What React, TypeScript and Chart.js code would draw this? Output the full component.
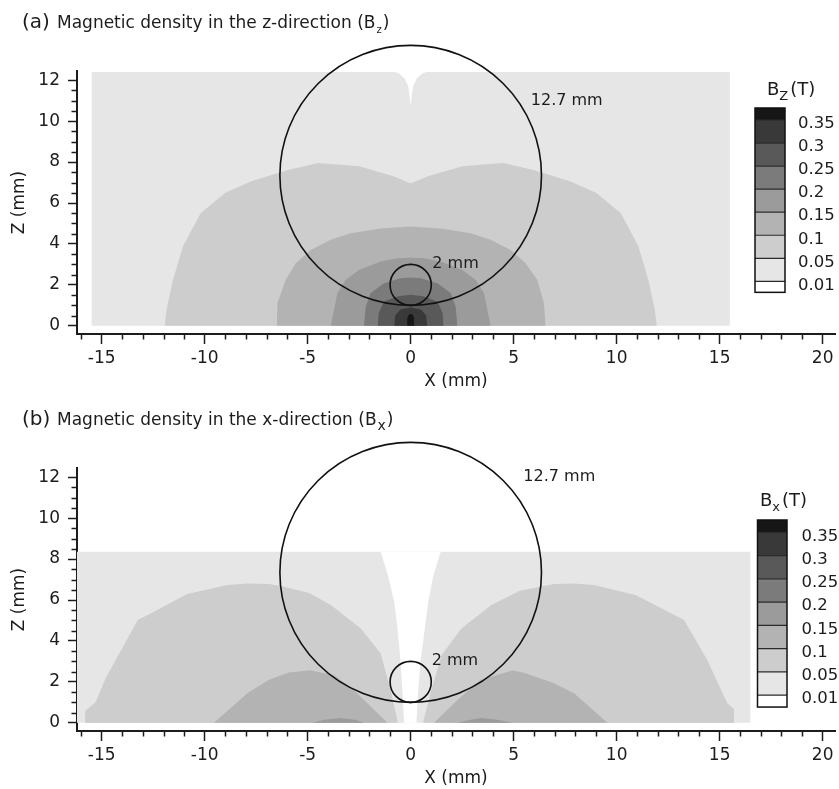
import { useEffect, useRef } from 'react';
import { Chart, registerables } from 'chart.js';

Chart.register(...registerables);

const FONT = '"DejaVu Sans", sans-serif';
const INK = '#1c1c1c';

// ---------- axes ----------
const X_MIN = -16.2;
const X_MAX = 20.6;
const Z_MIN = -0.4;
const Z_MAX = 12.45;
const X_MAJOR = [-15, -10, -5, 0, 5, 10, 15, 20];
const X_MINOR = [-16, -14, -13, -12, -11, -9, -8, -7, -6, -4, -3, -2, -1, 1, 2, 3, 4, 6, 7, 8, 9, 11, 12, 13, 14, 16, 17, 18, 19];
const Z_MAJOR = [0, 2, 4, 6, 8, 10, 12];
const Z_MINOR = [0.5, 1, 1.5, 2.5, 3, 3.5, 4.5, 5, 5.5, 6.5, 7, 7.5, 8.5, 9, 9.5, 10.5, 11, 11.5];

// ---------- colour levels (T) ----------
const LEVEL_LABELS = ['0.35', '0.3', '0.25', '0.2', '0.15', '0.1', '0.05', '0.01'];
const LEVEL_COLORS = ['#161616', '#393939', '#595959', '#7b7b7b', '#9b9b9b', '#b3b3b3', '#cdcdcd', '#e6e6e6', '#ffffff'];

// ---------- probe circles (mm) ----------
const CIRCLE_LABELS = ['12.7 mm', '2 mm'];
const CIRCLE_CX = [0, 0];
const CIRCLE_CZ = [7.35, 2];
const CIRCLE_R = [6.35, 1];
const LABEL_X_A = [5.83, 1.05];
const LABEL_Z_A = [10.98, 3.02];
const LABEL_X_B = [5.47, 1.02];
const LABEL_Z_B = [12.02, 3.02];

// ---------- panel (a) Bz contour regions ----------
const BZ_BG_X = [-15.5, -15.5, 15.5, 15.5];
const BZ_BG_Z = [0, 12.4, 12.4, 0];
const BZ_NOTCH_X = [-1.0, -0.6, -0.3, -0.12, -0.05, 0, 0.05, 0.12, 0.3, 0.6, 1.0];
const BZ_NOTCH_Z = [12.45, 12.35, 12.1, 11.7, 11.2, 10.7, 11.2, 11.7, 12.1, 12.35, 12.45];
const BZ_005_X = [-11.95, -11.85, -11.55, -11.05, -10.2, -9.0, -7.7, -6.0, -4.5, -2.5, -0.8, 0, 0.8, 2.5, 4.5, 6.0, 7.7, 9.0, 10.2, 11.05, 11.55, 11.85, 11.95];
const BZ_005_Z = [0, 0.8, 2.2, 3.9, 5.5, 6.5, 7.08, 7.6, 7.95, 7.8, 7.3, 6.95, 7.3, 7.8, 7.95, 7.6, 7.08, 6.5, 5.5, 3.9, 2.2, 0.8, 0];
const BZ_010_X = [-6.5, -6.47, -6.07, -5.58, -4.85, -3.88, -2.91, -1.46, 0, 1.46, 2.91, 3.88, 4.85, 5.58, 6.15, 6.47, 6.55];
const BZ_010_Z = [0, 1.1, 2.24, 3.06, 3.71, 4.2, 4.52, 4.76, 4.85, 4.76, 4.52, 4.2, 3.71, 3.06, 2.24, 1.1, 0];
const BZ_015_X = [-3.88, -3.56, -3.16, -2.51, -1.46, -0.65, 0, 0.65, 1.46, 2.51, 3.16, 3.56, 3.88];
const BZ_015_Z = [0, 1.59, 2.24, 2.73, 3.14, 3.3, 3.32, 3.3, 3.14, 2.73, 2.24, 1.59, 0];
const BZ_020_X = [-2.27, -2.18, -1.95, -1.3, -0.49, 0, 0.49, 1.3, 1.95, 2.18, 2.27];
const BZ_020_Z = [0, 0.94, 1.59, 2.08, 2.33, 2.36, 2.33, 2.08, 1.59, 0.94, 0];
const BZ_025_X = [-1.6, -1.55, -1.3, -0.6, 0, 0.6, 1.3, 1.55, 1.6];
const BZ_025_Z = [0, 0.62, 1.19, 1.45, 1.52, 1.45, 1.19, 0.62, 0];
const BZ_030_X = [-0.8, -0.75, -0.5, 0, 0.5, 0.75, 0.8];
const BZ_030_Z = [0, 0.5, 0.8, 0.9, 0.8, 0.5, 0];
const BZ_035_X = [-0.17, -0.17, -0.08, 0, 0.08, 0.17, 0.17];
const BZ_035_Z = [0, 0.4, 0.55, 0.58, 0.55, 0.4, 0];

// ---------- panel (b) Bx contour regions ----------
const BX_BG_X = [-16.2, -16.2, 16.5, 16.5];
const BX_BG_Z = [0, 8.36, 8.36, 0];
const BX_GAP_X = [-1.46, -1.1, -0.8, -0.65, -0.5, -0.4, -0.32, 0.28, 0.36, 0.49, 0.7, 0.85, 1.1, 1.46];
const BX_GAP_Z = [8.36, 7.2, 5.9, 4.7, 3.1, 1.5, 0, 0, 1.5, 3.1, 4.7, 5.9, 7.2, 8.36];
const BX_005L_X = [-15.8, -15.97, -15.3, -14.8, -13.25, -12.6, -10.85, -8.9, -7.93, -6.88, -6.15, -4.9, -3.88, -2.43, -1.46, -0.97, -0.62];
const BX_005L_Z = [0, 0.45, 1.0, 2.2, 5.02, 5.35, 6.29, 6.73, 6.81, 6.78, 6.65, 6.33, 5.76, 4.62, 3.4, 1.6, 0];
const BX_005R_X = [0.6, 1.0, 1.5, 2.45, 3.9, 5.3, 6.96, 7.93, 8.9, 10.92, 13.27, 14.4, 15.37, 16.02, 15.7];
const BX_005R_Z = [0, 1.6, 3.3, 4.6, 5.75, 6.45, 6.78, 6.81, 6.73, 6.24, 5.02, 3.07, 0.96, 0.39, 0];
const BX_010L_X = [-9.55, -7.93, -6.88, -5.91, -4.9, -3.74, -2.77, -1.94, -1.13];
const BX_010L_Z = [0, 1.45, 2.1, 2.46, 2.57, 2.34, 1.6, 0.8, 0];
const BX_010R_X = [1.13, 2.27, 3.4, 4.94, 5.5, 6.96, 7.93, 9.55];
const BX_010R_Z = [0, 1.12, 2.1, 2.55, 2.45, 1.93, 1.45, 0];
const BX_015L_X = [-4.77, -4.2, -3.4, -2.7, -2.27];
const BX_015L_Z = [0, 0.15, 0.23, 0.15, 0];
const BX_015R_X = [2.27, 2.9, 3.4, 4.2, 4.94];
const BX_015R_Z = [0, 0.15, 0.23, 0.15, 0];

type Layer = { x: number[]; z: number[]; color: string; fill: any };

const PANEL_A = {
  tag: '(a)',
  title: 'Magnetic density in the z-direction (B',
  titleSub: 'z',
  subSize: 10,
  cbSub: 'Z',
  labelX: LABEL_X_A,
  labelZ: LABEL_Z_A,
  cb: { left: 755, top: 108, width: 30, capTop: 12, cell: 23.05, capBottom: 11, labelX: 798, titleX: 767, titleY: 95 },
  layers: [
    { x: BZ_BG_X, z: BZ_BG_Z, color: LEVEL_COLORS[7], fill: 'origin' },
    { x: BZ_NOTCH_X, z: BZ_NOTCH_Z, color: LEVEL_COLORS[8], fill: 'end' },
    { x: BZ_005_X, z: BZ_005_Z, color: LEVEL_COLORS[6], fill: 'origin' },
    { x: BZ_010_X, z: BZ_010_Z, color: LEVEL_COLORS[5], fill: 'origin' },
    { x: BZ_015_X, z: BZ_015_Z, color: LEVEL_COLORS[4], fill: 'origin' },
    { x: BZ_020_X, z: BZ_020_Z, color: LEVEL_COLORS[3], fill: 'origin' },
    { x: BZ_025_X, z: BZ_025_Z, color: LEVEL_COLORS[2], fill: 'origin' },
    { x: BZ_030_X, z: BZ_030_Z, color: LEVEL_COLORS[1], fill: 'origin' },
    { x: BZ_035_X, z: BZ_035_Z, color: LEVEL_COLORS[0], fill: 'origin' },
  ] as Layer[],
};

const PANEL_B = {
  tag: '(b)',
  title: 'Magnetic density in the x-direction (B',
  titleSub: 'x',
  subSize: 14,
  cbSub: 'x',
  labelX: LABEL_X_B,
  labelZ: LABEL_Z_B,
  cb: { left: 757.5, top: 123, width: 29.5, capTop: 12.3, cell: 23.25, capBottom: 12, labelX: 801.5, titleX: 760, titleY: 109 },
  layers: [
    { x: BX_BG_X, z: BX_BG_Z, color: LEVEL_COLORS[7], fill: 'origin' },
    { x: BX_GAP_X, z: BX_GAP_Z, color: LEVEL_COLORS[8], fill: 'shape' },
    { x: BX_005L_X, z: BX_005L_Z, color: LEVEL_COLORS[6], fill: 'origin' },
    { x: BX_005R_X, z: BX_005R_Z, color: LEVEL_COLORS[6], fill: 'origin' },
    { x: BX_010L_X, z: BX_010L_Z, color: LEVEL_COLORS[5], fill: 'origin' },
    { x: BX_010R_X, z: BX_010R_Z, color: LEVEL_COLORS[5], fill: 'origin' },
    { x: BX_015L_X, z: BX_015L_Z, color: LEVEL_COLORS[4], fill: 'origin' },
    { x: BX_015R_X, z: BX_015R_Z, color: LEVEL_COLORS[4], fill: 'origin' },
  ] as Layer[],
};

type PanelCfg = typeof PANEL_A;

function decorPlugin(cfg: PanelCfg) {
  return {
    id: 'decor',
    afterDatasetsDraw(chart: any) {
      const { ctx } = chart;
      const xs = chart.scales.x;
      const ys = chart.scales.y;
      ctx.save();
      ctx.strokeStyle = '#111';
      ctx.lineWidth = 1.6;
      CIRCLE_CX.forEach((cx, i) => {
        const px = xs.getPixelForValue(cx);
        const py = ys.getPixelForValue(CIRCLE_CZ[i]);
        const rx = Math.abs(xs.getPixelForValue(cx + CIRCLE_R[i]) - px);
        const ry = Math.abs(ys.getPixelForValue(CIRCLE_CZ[i] + CIRCLE_R[i]) - py);
        ctx.beginPath();
        ctx.ellipse(px, py, rx, ry, 0, 0, Math.PI * 2);
        ctx.stroke();
      });
      ctx.fillStyle = INK;
      ctx.font = `16px ${FONT}`;
      ctx.textBaseline = 'middle';
      ctx.textAlign = 'left';
      CIRCLE_LABELS.forEach((t, i) => {
        ctx.fillText(t, xs.getPixelForValue(cfg.labelX[i]), ys.getPixelForValue(cfg.labelZ[i]));
      });
      ctx.restore();
    },
    afterDraw(chart: any) {
      const { ctx, chartArea } = chart;
      const xs = chart.scales.x;
      const ys = chart.scales.y;
      ctx.save();
      // minor ticks
      ctx.strokeStyle = INK;
      ctx.lineWidth = 1.5;
      ctx.beginPath();
      X_MINOR.forEach((v) => {
        const px = Math.round(xs.getPixelForValue(v)) + 0.5;
        ctx.moveTo(px, chartArea.bottom);
        ctx.lineTo(px, chartArea.bottom + 5.5);
      });
      Z_MINOR.forEach((v) => {
        const py = Math.round(ys.getPixelForValue(v)) + 0.5;
        ctx.moveTo(chartArea.left - 5.5, py);
        ctx.lineTo(chartArea.left, py);
      });
      ctx.stroke();

      // panel title
      ctx.fillStyle = INK;
      ctx.textBaseline = 'alphabetic';
      ctx.textAlign = 'left';
      ctx.font = `20px ${FONT}`;
      ctx.fillText(cfg.tag, 22, 28);
      ctx.font = `17px ${FONT}`;
      ctx.fillText(cfg.title, 57, 28);
      let tx = 57 + ctx.measureText(cfg.title).width + 1;
      ctx.font = `${cfg.subSize}px ${FONT}`;
      ctx.fillText(cfg.titleSub, tx, 33);
      tx += ctx.measureText(cfg.titleSub).width + 1;
      ctx.font = `17px ${FONT}`;
      ctx.fillText(')', tx, 28);

      // colour bar
      const cb = cfg.cb;
      const heights = LEVEL_COLORS.map((_, i) => (i === 0 ? cb.capTop : i === LEVEL_COLORS.length - 1 ? cb.capBottom : cb.cell));
      let y = cb.top;
      const bounds: number[] = [];
      LEVEL_COLORS.forEach((c, i) => {
        ctx.fillStyle = c;
        ctx.fillRect(cb.left, y, cb.width, heights[i]);
        y += heights[i];
        if (i < LEVEL_COLORS.length - 1) bounds.push(y);
      });
      ctx.strokeStyle = '#2a2a2a';
      ctx.lineWidth = 1.2;
      ctx.beginPath();
      bounds.forEach((b) => {
        ctx.moveTo(cb.left, b);
        ctx.lineTo(cb.left + cb.width, b);
      });
      ctx.stroke();
      ctx.strokeStyle = '#111';
      ctx.lineWidth = 1.5;
      ctx.strokeRect(cb.left, cb.top, cb.width, y - cb.top);
      ctx.fillStyle = INK;
      ctx.font = `16.5px ${FONT}`;
      ctx.textBaseline = 'middle';
      LEVEL_LABELS.forEach((t, i) => {
        ctx.fillText(t, cb.labelX, bounds[i] + 4);
      });
      // colour bar title B_z (T)
      ctx.textBaseline = 'alphabetic';
      ctx.font = `18px ${FONT}`;
      let bx = cb.titleX;
      ctx.fillText('B', bx, cb.titleY);
      bx += ctx.measureText('B').width;
      ctx.font = `13px ${FONT}`;
      ctx.fillText(cfg.cbSub, bx, cb.titleY + 5);
      bx += ctx.measureText(cfg.cbSub).width + 2;
      ctx.font = `18px ${FONT}`;
      ctx.fillText('(T)', bx, cb.titleY);
      ctx.restore();
    },
  };
}

function buildConfig(cfg: PanelCfg): any {
  const n = cfg.layers.length;
  const datasets = cfg.layers.map((l, i) => ({
    data: l.x.map((x, k) => ({ x, y: l.z[k] })),
    backgroundColor: l.color,
    borderColor: l.color,
    borderWidth: 0,
    pointRadius: 0,
    pointHoverRadius: 0,
    tension: 0,
    fill: l.fill,
    order: n - i,
  }));
  const tickFont = { family: FONT, size: 17 };
  return {
    type: 'line',
    data: { datasets },
    options: {
      animation: false,
      responsive: false,
      devicePixelRatio: 1,
      events: [],
      layout: { padding: { top: 71, right: 4, bottom: 0, left: 0 } },
      plugins: {
        legend: { display: false },
        tooltip: { enabled: false },
        title: { display: false },
      },
      scales: {
        x: {
          type: 'linear',
          min: X_MIN,
          max: X_MAX,
          afterBuildTicks: (s: any) => {
            s.ticks = X_MAJOR.map((v) => ({ value: v }));
          },
          afterFit: (s: any) => {
            s.height = 58;
          },
          grid: { drawOnChartArea: false, drawTicks: true, tickLength: 10, tickWidth: 1.5, tickColor: INK },
          border: { display: true, color: INK, width: 2 },
          ticks: { font: tickFont, color: INK, padding: 4, maxRotation: 0, autoSkip: false, callback: (v: any) => String(v) },
          title: { display: true, text: 'X (mm)', font: tickFont, color: INK, padding: { top: 0, bottom: 0 } },
        },
        y: {
          type: 'linear',
          min: Z_MIN,
          max: Z_MAX,
          afterBuildTicks: (s: any) => {
            s.ticks = Z_MAJOR.map((v) => ({ value: v }));
          },
          afterFit: (s: any) => {
            s.width = 77;
          },
          grid: { drawOnChartArea: false, drawTicks: true, tickLength: 9, tickWidth: 1.5, tickColor: INK },
          border: { display: true, color: INK, width: 2 },
          ticks: { font: tickFont, color: INK, padding: 8, autoSkip: false, callback: (v: any) => String(v) },
          title: { display: true, text: 'Z (mm)', font: tickFont, color: INK, padding: { top: 9, bottom: 0 } },
        },
      },
    },
    plugins: [decorPlugin(cfg)],
  };
}

function Panel({ cfg, top }: { cfg: PanelCfg; top: number }) {
  const ref = useRef<HTMLCanvasElement>(null);
  useEffect(() => {
    const chart = new Chart(ref.current as HTMLCanvasElement, buildConfig(cfg));
    return () => chart.destroy();
  }, [cfg]);
  return (
    <canvas
      ref={ref}
      width={839}
      height={392}
      style={{ position: 'absolute', left: 0, top, width: 839, height: 392, display: 'block' }}
    />
  );
}

export default function App() {
  return (
    <div style={{ position: 'absolute', left: 0, top: 0, width: 839, height: 789, background: '#ffffff' }}>
      <Panel cfg={PANEL_A} top={0} />
      <Panel cfg={PANEL_B} top={397} />
    </div>
  );
}
